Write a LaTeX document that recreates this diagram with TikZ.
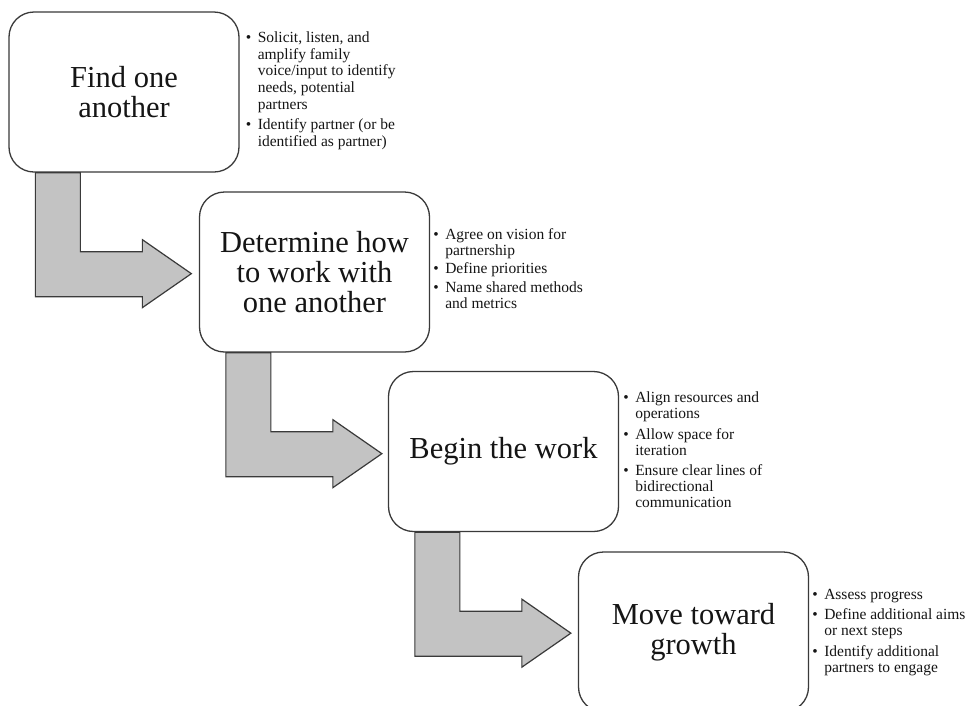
\documentclass[tikz,border=0pt]{standalone}
\usepackage{fontspec}
\setmainfont{Liberation Serif}
\usetikzlibrary{calc}
\definecolor{linegray}{HTML}{3A3A3A}
\definecolor{arrowgray}{HTML}{C3C3C3}
\definecolor{textblack}{HTML}{151515}
\tikzset{
  stagebox/.style={draw=linegray, line width=1.3pt, rounded corners=25pt, fill=white,
    minimum width=230pt, minimum height=160pt, inner sep=0pt, align=center,
    text=textblack, font=\fontsize{30.5}{30}\selectfont},
  bulletlist/.style={anchor=base west, inner sep=0pt, text=textblack,
    font=\fontsize{15.5}{16}\selectfont},
  bentarrow/.style={fill=arrowgray, draw=linegray, line width=1.2pt, line join=miter}
}
\newcommand{\bentpath}[1]{%
  \draw[bentarrow] ($(#1.south west)+(27,0)$) -- ++(45,0) -- ++(0,79) -- ++(62,0)
    -- ++(0,-12) -- ++(49,34) -- ++(-49,34) -- ++(0,-11) -- ++(-107,0) -- cycle;}
\begin{document}
\begin{tikzpicture}[x=1pt,y=-1pt]
\clip (0,0) rectangle (969,705);
\fill[white] (0,0) rectangle (969,705);

\node[stagebox] (b1) at (124,92) {Find one\\another};
\node[stagebox] (b2) at (314.5,272) {Determine how\\to work with\\one another};
\node[stagebox] (b3) at (503.5,451.5) {Begin the work};
\node[stagebox] (b4) at (693.5,632) {Move toward\\growth};

\bentpath{b1}
\bentpath{b2}
\bentpath{b3}

\node[bulletlist, font=\fontsize{15.5}{16.7}\selectfont] (l1) at ($(b1.north east)+(6,31)$) {%
  \begin{tabular}[t]{@{}l@{\hspace{6.5pt}}l@{}}
  • & Solicit, listen, and\\
    & amplify family\\
    & voice/input to identify\\
    & needs, potential\\
    & partners\\[4pt]
  • & Identify partner (or be\\
    & identified as partner)
  \end{tabular}};
\node[bulletlist] (l2) at ($(b2.north east)+(3,48)$) {%
  \begin{tabular}[t]{@{}l@{\hspace{6.5pt}}l@{}}
  • & Agree on vision for\\
    & partnership\\[2.5pt]
  • & Define priorities\\[2.5pt]
  • & Name shared methods\\
    & and metrics
  \end{tabular}};
\node[bulletlist] (l3) at ($(b3.north east)+(4,32)$) {%
  \begin{tabular}[t]{@{}l@{\hspace{6.5pt}}l@{}}
  • & Align resources and\\
    & operations\\[4.5pt]
  • & Allow space for\\
    & iteration\\[4.5pt]
  • & Ensure clear lines of\\
    & bidirectional\\
    & communication
  \end{tabular}};
\node[bulletlist] (l4) at ($(b4.north east)+(3,48)$) {%
  \begin{tabular}[t]{@{}l@{\hspace{6.5pt}}l@{}}
  • & Assess progress\\[4.5pt]
  • & Define additional aims\\
    & or next steps\\[4.5pt]
  • & Identify additional\\
    & partners to engage
  \end{tabular}};
\end{tikzpicture}
\end{document}
